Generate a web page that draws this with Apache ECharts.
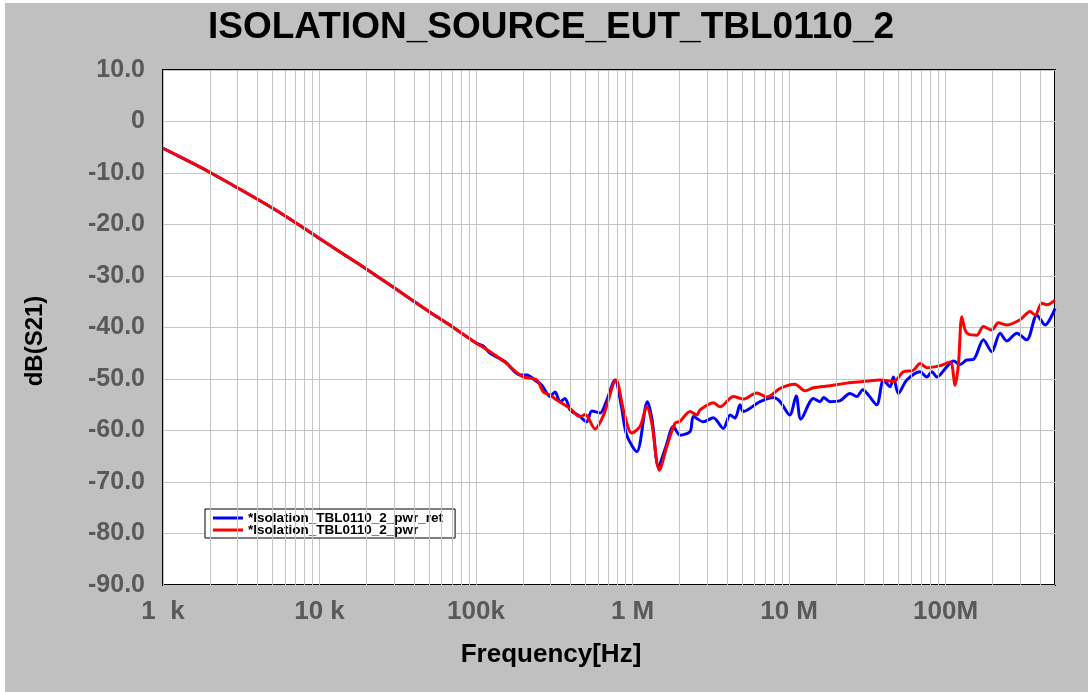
<!DOCTYPE html>
<html><head><meta charset="utf-8">
<script src="https://cdn.jsdelivr.net/npm/echarts@6/dist/echarts.min.js"></script>
<style>html,body{margin:0;padding:0;background:#fff;overflow:hidden;} #c{position:absolute;left:5px;top:3px;width:1083px;height:689px;}</style>
</head><body><div id="c"></div>
<script>
// ---- data ----
const chartTitle = 'ISOLATION_SOURCE_EUT_TBL0110_2';
const xAxisTitle = 'Frequency[Hz]';
const yAxisTitle = 'dB(S21)';
const seriesNames = ['*Isolation_TBL0110_2_pwr_ret', '*Isolation_TBL0110_2_pwr'];
const xTickLabels = { 3: '1  k', 4: '10 k', 5: '100k', 6: '1 M', 7: '10 M', 8: '100M' };
const yMin = -90, yMax = 10, yStep = 10;
const xMin = 1e3, xMax = 5e8;

// series "pwr_ret" (blue)
const retFreq = [1000,1500,2000,3000,5000,7000,10000,15000,20000,30000,50000,70000,
  100000,111000,123000,153000,191000,211000,244000,263000,297000,320000,344000,370000,399000,430000,462000,510000,549000,620000,677000,773000,845000,918000,
  1064000,1244000,1334000,1463000,1638000,1823000,2010000,2330000,2450000,2830000,3280000,3800000,4200000,4520000,4860000,5100000,6530000,7940000,8770000,
  10100000,11100000,11900000,14300000,15800000,16600000,18300000,21200000,24500000,27100000,29600000,32100000,36300000,40100000,44200000,46400000,49900000,56500000,68700000,75800000,81700000,87900000,
  101900000,112300000,123800000,136500000,150600000,174300000,197200000,223000000,245900000,285000000,330000000,383000000,432000000,500000000];
const retDb = [-5.2,-7.9,-9.9,-12.9,-16.8,-19.6,-22.7,-26.2,-28.7,-32.3,-36.9,-39.8,
  -43.0,-43.6,-45.0,-46.6,-49.2,-49.2,-50.5,-51.2,-53.4,-52.5,-54.4,-53.8,-56.0,-56.7,-57.3,-58.3,-56.2,-56.6,-54.5,-50.2,-55.0,-60.9,
  -64.1,-54.4,-58.0,-67.0,-63.0,-59.2,-60.9,-60.2,-57.3,-58.3,-57.5,-59.6,-57.0,-57.6,-55.0,-56.3,-54.4,-53.6,-54.4,
  -57.0,-53.3,-57.8,-53.8,-54.4,-53.6,-54.4,-54.2,-52.8,-53.4,-52.1,-53.1,-55.0,-50.2,-51.5,-49.6,-52.8,-50.2,-48.6,-49.6,-48.6,-49.6,
  -47.6,-46.5,-47.2,-46.3,-46.2,-42.4,-44.7,-41.1,-42.6,-41.1,-42.4,-37.6,-39.5,-36.3];

// series "pwr" (red)
const pwrFreq = [1000,1500,2000,3000,5000,7000,10000,15000,20000,30000,50000,70000,
  100000,123000,157000,180000,200000,244000,269000,297000,328000,399000,462000,498000,576000,651000,785000,874000,989000,
  1117000,1233000,1327000,1484000,1660000,1869000,2010000,2330000,2570000,2700000,3280000,3620000,4410000,5100000,6220000,7210000,8770000,
  10900000,12700000,14300000,18300000,23400000,29900000,38200000,46400000,53700000,62200000,68700000,75800000,92200000,
  106900000,115000000,120900000,126900000,133300000,139900000,158200000,174300000,197200000,217400000,245900000,299200000,346600000,373200000,411900000,443700000,500000000];
const pwrDb = [-5.2,-7.9,-9.9,-12.9,-16.8,-19.6,-22.7,-26.2,-28.7,-32.3,-36.9,-39.8,
  -43.0,-44.7,-47.0,-48.6,-49.6,-50.2,-52.5,-53.1,-54.1,-55.7,-57.3,-56.9,-59.7,-57.1,-50.2,-56.0,-60.5,
  -59.2,-55.4,-58.6,-67.7,-63.0,-58.6,-58.2,-56.3,-57.0,-56.0,-54.6,-55.4,-53.4,-53.9,-52.7,-53.5,-51.8,
  -51.0,-52.3,-51.7,-51.3,-50.8,-50.5,-50.2,-50.5,-48.6,-48.3,-47.0,-47.8,-47.4,
  -46.7,-51.2,-47.0,-37.9,-40.5,-41.3,-41.5,-39.8,-40.5,-39.1,-39.5,-38.5,-36.9,-37.6,-35.3,-35.6,-34.7];

// ---- chart ----
const FONT = "'Liberation Sans', Arial, sans-serif";
const minorGrid = [];
for (let e = 3; e <= 8; e++) for (let m = 2; m <= 9; m++) { const f = m * Math.pow(10, e); if (f < xMax) minorGrid.push({ xAxis: f }); }
const zip = (a, b) => a.map((v, i) => [v, b[i]]);
const gridColor = '#c4c4c4';

const chart = echarts.init(document.getElementById('c'), null, { renderer: 'canvas' });
chart.setOption({
  animation: false,
  backgroundColor: '#c0c0c0',
  grid: { left: 158, top: 67, right: 33, bottom: 107, show: true, backgroundColor: '#fff', borderColor: '#000', borderWidth: 2, containLabel: false },
  xAxis: {
    type: 'log', logBase: 10, min: xMin, max: xMax,
    axisLine: { show: false }, axisTick: { show: false },
    splitLine: { show: true, lineStyle: { color: gridColor, width: 1 } },
    axisLabel: {
      margin: 14, color: '#595959', fontWeight: 'bold', fontSize: 26, fontFamily: FONT,
      formatter: v => { const e = Math.log10(v); const r = Math.round(e); return Math.abs(e - r) < 1e-6 && xTickLabels[r] ? xTickLabels[r] : ''; }
    }
  },
  yAxis: {
    type: 'value', min: yMin, max: yMax, interval: yStep,
    axisLine: { show: false }, axisTick: { show: false },
    splitLine: { show: true, lineStyle: { color: gridColor, width: 1 } },
    axisLabel: { margin: 18, color: '#595959', fontWeight: 'bold', fontSize: 25, fontFamily: FONT,
      formatter: v => v === 0 ? '0' : v.toFixed(1) }
  },
  legend: {
    data: [{ name: seriesNames[0], icon: 'rect' }, { name: seriesNames[1], icon: 'rect' }],
    orient: 'vertical', left: 200, top: 506, itemGap: -2, itemWidth: 30, itemHeight: 3,
    padding: [2, 12, 1, 8], backgroundColor: '#fff', borderColor: '#000', borderWidth: 1, borderRadius: 0,
    selectedMode: false,
    textStyle: { color: '#000', fontWeight: 'bold', fontSize: 13.5, fontFamily: FONT, lineHeight: 12 }
  },
  graphic: [
    { type: 'text', x: 546, y: 25, style: { text: chartTitle, font: "bold 37px " + FONT, fill: '#000', align: 'center', verticalAlign: 'middle' } },
    { type: 'text', x: 546, y: 652, style: { text: xAxisTitle, font: "bold 26px " + FONT, fill: '#000', align: 'center', verticalAlign: 'middle' } },
    { type: 'text', x: 30, y: 338, rotation: Math.PI / 2, style: { text: yAxisTitle, font: "bold 24px " + FONT, fill: '#000', align: 'center', verticalAlign: 'middle' } }
  ],
  series: [
    { name: '_grid', type: 'line', data: [], z: 1, silent: true,
      markLine: { silent: true, symbol: ['none', 'none'], animation: false, label: { show: false },
        lineStyle: { color: gridColor, width: 1, type: 'solid' }, emphasis: { disabled: true }, data: minorGrid } },
    { name: seriesNames[0], type: 'line', data: zip(retFreq, retDb), showSymbol: false, symbol: 'none', color: '#0000ff', smooth: 0.3,
      lineStyle: { width: 3, color: '#0000ff' }, z: 3 },
    { name: seriesNames[1], type: 'line', data: zip(pwrFreq, pwrDb), showSymbol: false, symbol: 'none', color: '#ff0000', smooth: 0.3,
      lineStyle: { width: 3, color: '#ff0000' }, z: 4 }
  ]
});
</script></body></html>
